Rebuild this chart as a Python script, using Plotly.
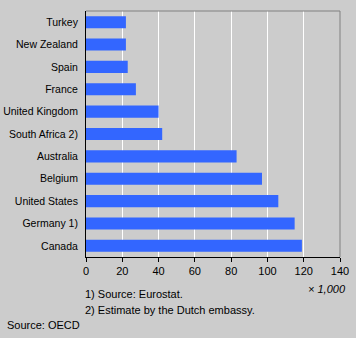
import plotly.graph_objects as go

countries = ["Turkey", "New Zealand", "Spain", "France", "United Kingdom",
             "South Africa 2)", "Australia", "Belgium", "United States",
             "Germany 1)", "Canada"]
values = [22, 22, 23, 27.5, 40, 42, 83, 97, 106, 115, 119]
x_ticks = [0, 20, 40, 60, 80, 100, 120, 140]

W, H = 356, 338
L, R, T, B = 86, 16, 11, 81
FONT = "Liberation Sans, Arial, sans-serif"
FS = 10.5
BG = "#cccccc"

fig = go.Figure(go.Bar(
    x=values, y=countries, orientation="h",
    marker=dict(color="#3366ff", line=dict(width=0)),
    width=0.54,
))

fig.update_layout(
    width=W, height=H,
    margin=dict(l=L, r=R, t=T, b=B, pad=0, autoexpand=False),
    paper_bgcolor=BG, plot_bgcolor=BG,
    font=dict(family=FONT, size=FS, color="#000000"),
    showlegend=False,
    xaxis=dict(
        range=[0, 140], tickvals=x_ticks, ticktext=[str(v) for v in x_ticks],
        showgrid=True, gridcolor="#ffffff", gridwidth=1,
        showline=True, linecolor="#000000", linewidth=1,
        ticks="outside", ticklen=4, tickcolor="#000000", tickwidth=1,
        zeroline=False, fixedrange=True, automargin=False,
        tickfont=dict(family=FONT, size=11),
    ),
    yaxis=dict(
        autorange="reversed", type="category",
        showgrid=False, showline=True, linecolor="#000000", linewidth=1,
        ticks="", ticklen=0, zeroline=False, automargin=False,
        tickfont=dict(family=FONT, size=FS),
        ticklabelstandoff=5,
    ),
    shapes=[
        dict(type="line", xref="paper", yref="paper", x0=0, x1=1, y0=1, y1=1,
             line=dict(color="#808080", width=1)),
        dict(type="line", xref="paper", yref="paper", x0=1, x1=1, y0=0, y1=1,
             line=dict(color="#808080", width=1)),
    ],
)

pw = W - L - R
ph = H - T - B

def px_x(x):
    return (x - L) / pw

def px_y(y):
    return (H - B - y) / ph

annotations = [
    dict(text="<i>× 1,000</i>", x=px_x(348), y=px_y(289), xanchor="right", yanchor="middle"),
    dict(text="1) Source: Eurostat.", x=px_x(83), y=px_y(294), xanchor="left", yanchor="middle"),
    dict(text="2) Estimate by the Dutch embassy.", x=px_x(83), y=px_y(310), xanchor="left", yanchor="middle"),
    dict(text="Source: OECD", x=px_x(5), y=px_y(325), xanchor="left", yanchor="middle"),
]
for a in annotations:
    fig.add_annotation(xref="paper", yref="paper", showarrow=False,
                       font=dict(family=FONT, size=11, color="#000000"), **a)

fig.write_html("out.html")
